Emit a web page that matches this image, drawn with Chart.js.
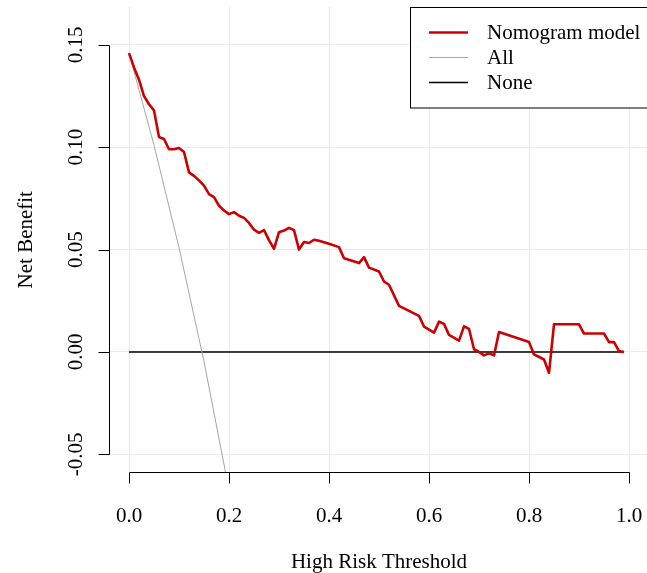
<!DOCTYPE html>
<html lang="en">
<head>
    <meta charset="UTF-8">
    <title>Decision curve</title>
    <script src="https://cdn.jsdelivr.net/npm/chart.js"></script>
    <style>
        body {
            margin: 0;
            background: #fff;
            overflow: hidden;
        }
        #dca {
            display: block;
        }
    </style>
</head>
<body>
    <canvas id="dca" width="647" height="573"></canvas>
    <script>
        // values
        const thresholds = [0, 0.01, 0.02, 0.03, 0.04, 0.05, 0.06, 0.07, 0.08, 0.09,
            0.10, 0.11, 0.12, 0.13, 0.14, 0.15, 0.16, 0.17, 0.18, 0.19,
            0.20, 0.21, 0.22, 0.23, 0.24, 0.25, 0.26, 0.27, 0.28, 0.29,
            0.30, 0.31, 0.32, 0.33, 0.34, 0.35, 0.36, 0.37, 0.38, 0.40,
            0.42, 0.43, 0.46, 0.47, 0.48, 0.50, 0.51, 0.52, 0.54, 0.58,
            0.59, 0.61, 0.62, 0.63, 0.64, 0.66, 0.67, 0.68, 0.69, 0.70,
            0.71, 0.72, 0.73, 0.74, 0.80, 0.81, 0.83, 0.84, 0.85, 0.90,
            0.91, 0.95, 0.96, 0.97, 0.98, 0.99];
        const nomogramNB = [0.146, 0.139, 0.133, 0.125, 0.121, 0.118, 0.105, 0.104, 0.099, 0.099,
            0.0996, 0.0977, 0.0877, 0.086, 0.0838, 0.0812, 0.0771, 0.0756, 0.0714, 0.0691,
            0.0673, 0.0683, 0.0665, 0.0655, 0.063, 0.0597, 0.0582, 0.0595, 0.0546, 0.0503,
            0.0585, 0.0593, 0.0606, 0.0595, 0.050, 0.0537, 0.0532, 0.0548, 0.0543, 0.0528,
            0.0512, 0.0458, 0.0434, 0.0463, 0.0412, 0.0393, 0.0344, 0.0328, 0.0225, 0.0176,
            0.0124, 0.0094, 0.0148, 0.0137, 0.0083, 0.0055, 0.0125, 0.0113, 0.0013, 0.0,
            -0.0017, -0.0007, -0.0017, 0.0097, 0.0048, -0.0012, -0.0037, -0.0102, 0.0135, 0.0135,
            0.009, 0.009, 0.0048, 0.0048, 0.0004, 0.0];
        const allThresholds = [0, 0.05, 0.10, 0.15, 0.20];
        const allNB = [0.146, 0.101, 0.051, -0.0047, -0.0675];
        const noneThresholds = [0, 0.99];
        const noneNB = [0, 0];
        const seriesNames = ['Nomogram model', 'All', 'None'];
        const xTicks = [0, 0.2, 0.4, 0.6, 0.8, 1.0];
        const yTicks = [-0.05, 0, 0.05, 0.10, 0.15];

        const seriesColors = ['#cc0000', '#a6a6a6', '#000000'];
        const seriesWidths = [2.6, 1, 1.4];
        const FONT = '21px "Liberation Serif", "DejaVu Serif", serif';

        function toPoints(xs, ys) {
            return xs.map((x, i) => ({ x: x, y: ys[i] }));
        }

        // R-style detached axes, titles and boxed legend
        const rStyle = {
            id: 'rStyle',
            afterDraw(chart) {
                const ctx = chart.ctx;
                const xs = chart.scales.x;
                const ys = chart.scales.y;
                const axX = 109.5;
                const axY = 472.5;
                const tick = 11;
                ctx.save();
                ctx.strokeStyle = '#000';
                ctx.lineWidth = 1;
                ctx.fillStyle = '#000';
                ctx.font = FONT;

                // y axis
                const yTop = Math.round(ys.getPixelForValue(yTicks[yTicks.length - 1])) + 0.5;
                const yBot = Math.round(ys.getPixelForValue(yTicks[0])) + 0.5;
                ctx.beginPath();
                ctx.moveTo(axX, yTop);
                ctx.lineTo(axX, yBot);
                yTicks.forEach(v => {
                    const py = Math.round(ys.getPixelForValue(v)) + 0.5;
                    ctx.moveTo(axX - tick, py);
                    ctx.lineTo(axX, py);
                });
                ctx.stroke();
                ctx.textAlign = 'center';
                ctx.textBaseline = 'alphabetic';
                yTicks.forEach(v => {
                    const py = ys.getPixelForValue(v);
                    ctx.save();
                    ctx.translate(82, py);
                    ctx.rotate(-Math.PI / 2);
                    ctx.fillText(v.toFixed(2), 0, 0);
                    ctx.restore();
                });

                // x axis
                const xL = Math.round(xs.getPixelForValue(xTicks[0])) + 0.5;
                const xR = Math.round(xs.getPixelForValue(xTicks[xTicks.length - 1])) + 0.5;
                ctx.beginPath();
                ctx.moveTo(xL, axY);
                ctx.lineTo(xR, axY);
                xTicks.forEach(v => {
                    const px = Math.round(xs.getPixelForValue(v)) + 0.5;
                    ctx.moveTo(px, axY);
                    ctx.lineTo(px, axY + tick);
                });
                ctx.stroke();
                xTicks.forEach(v => {
                    ctx.fillText(v.toFixed(1), xs.getPixelForValue(v), 522);
                });

                // titles
                const midX = (109 + 649) / 2;
                ctx.fillText('High Risk Threshold', midX, 568);
                ctx.save();
                ctx.translate(32, (chart.chartArea.top + chart.chartArea.bottom) / 2);
                ctx.rotate(-Math.PI / 2);
                ctx.fillText('Net Benefit', 0, 0);
                ctx.restore();

                // legend box
                ctx.fillStyle = '#fff';
                ctx.fillRect(410.5, 7.5, 260, 100.5);
                ctx.strokeStyle = '#000';
                ctx.strokeRect(410.5, 7.5, 260, 100.5);
                ctx.textAlign = 'left';
                ctx.textBaseline = 'middle';
                ctx.fillStyle = '#000';
                const rowY = [32.5, 57.5, 82.5];
                seriesNames.forEach((name, i) => {
                    ctx.beginPath();
                    ctx.strokeStyle = seriesColors[i];
                    ctx.lineWidth = seriesWidths[i];
                    ctx.moveTo(429, rowY[i]);
                    ctx.lineTo(468, rowY[i]);
                    ctx.stroke();
                    ctx.fillText(name, 487, rowY[i] + 1);
                });
                ctx.restore();
            }
        };

        new Chart(document.getElementById('dca').getContext('2d'), {
            type: 'line',
            data: {
                datasets: [
                    {
                        label: seriesNames[0],
                        data: toPoints(thresholds, nomogramNB),
                        borderColor: seriesColors[0],
                        borderWidth: seriesWidths[0],
                        pointRadius: 0,
                        tension: 0,
                        borderJoinStyle: 'round'
                    },
                    {
                        label: seriesNames[1],
                        data: toPoints(allThresholds, allNB),
                        borderColor: seriesColors[1],
                        borderWidth: seriesWidths[1],
                        pointRadius: 0,
                        tension: 0
                    },
                    {
                        label: seriesNames[2],
                        data: toPoints(noneThresholds, noneNB),
                        borderColor: seriesColors[2],
                        borderWidth: seriesWidths[2],
                        pointRadius: 0,
                        tension: 0
                    }
                ]
            },
            options: {
                responsive: false,
                animation: false,
                events: [],
                layout: {
                    padding: { left: 109, top: 7, right: 0, bottom: 100.5 }
                },
                plugins: {
                    legend: { display: false },
                    tooltip: { enabled: false }
                },
                scales: {
                    x: {
                        type: 'linear',
                        min: -0.04,
                        max: 1.036,
                        afterBuildTicks: s => { s.ticks = xTicks.map(v => ({ value: v })); },
                        ticks: { display: false },
                        border: { display: false },
                        grid: { color: '#ebebeb', lineWidth: 1, drawTicks: false }
                    },
                    y: {
                        type: 'linear',
                        min: -0.0589,
                        max: 0.1685,
                        afterBuildTicks: s => { s.ticks = yTicks.map(v => ({ value: v })); },
                        ticks: { display: false },
                        border: { display: false },
                        grid: { color: '#ebebeb', lineWidth: 1, drawTicks: false }
                    }
                }
            },
            plugins: [rStyle]
        });
    </script>
</body>
</html>
